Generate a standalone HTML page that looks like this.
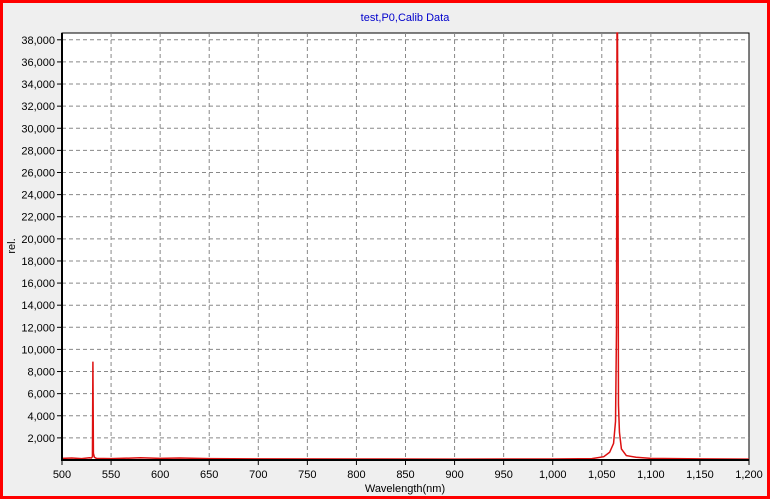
<!DOCTYPE html>
<html><head><meta charset="utf-8"><style>
html,body{margin:0;padding:0;background:#efefef;}
svg{display:block;font-family:"Liberation Sans",sans-serif;}
</style></head><body>
<svg id="chart" width="770" height="499" xmlns="http://www.w3.org/2000/svg">
<rect x="1.5" y="1.5" width="767" height="496" fill="#efefef" stroke="#ff0000" stroke-width="3"/>
<text x="405" y="21" font-size="11" fill="#0000cc" text-anchor="middle">test,P0,Calib Data</text>
<rect x="62" y="33" width="687" height="427" fill="#fff" stroke="#000" stroke-width="1"/>
<g id="grid"></g>
<g id="ticks"></g>
<g id="series"></g>
<line x1="62" y1="460" x2="749" y2="460" stroke="#000" stroke-width="2"/>
<line x1="62" y1="33" x2="62" y2="461" stroke="#000" stroke-width="2"/>
<text x="0" y="0" font-size="11" text-anchor="middle" transform="translate(15,246) rotate(-90)">rel.</text>
<text x="405" y="492" font-size="11" text-anchor="middle">Wavelength(nm)</text>
</svg>
<script>
const xTicks=[500,550,600,650,700,750,800,850,900,950,1000,1050,1100,1150,1200];
const yTicks=[2000,4000,6000,8000,10000,12000,14000,16000,18000,20000,22000,24000,26000,28000,30000,32000,34000,36000,38000];
const wavelengths=[500,510,520,528,530,531,531.5,532,533,535,550,580,600,620,650,700,800,900,1000,1040,1052,1058,1062,1064,1065,1065.5,1066,1066.5,1067,1068,1070,1075,1085,1100,1150,1200];
const intensities=[150,180,120,200,180,300,8900,600,250,150,120,200,150,180,120,100,90,80,90,120,300,700,1500,3500,12000,39000,39000,26500,5000,2500,1000,400,250,150,100,80];
const x=v=>62+(v-500)*687/700;
const y=v=>460-v*(460-39.8)/38000;
const NS="http://www.w3.org/2000/svg";
const grid=document.getElementById('grid'),ticks=document.getElementById('ticks'),series=document.getElementById('series');
function mk(tag,attrs,parent){const e=document.createElementNS(NS,tag);for(const k in attrs)e.setAttribute(k,attrs[k]);parent.appendChild(e);return e;}
xTicks.forEach(t=>{
  const px=x(t);
  if(t>500&&t<1200){const l=mk('line',{x1:px,y1:33,x2:px,y2:460,stroke:'#888','stroke-dasharray':'4,3'},grid);
  
  }
  const tk=mk('line',{x1:px,y1:460,x2:px,y2:465,stroke:'#000'},ticks);
  
  
  const tx=mk('text',{x:px,y:478,'font-size':11,'text-anchor':'middle'},ticks);
  tx.textContent=t.toLocaleString('en-US');
  
  
});
yTicks.forEach(t=>{
  const py=y(t);
  const l=mk('line',{x1:62,y1:py,x2:749,y2:py,stroke:'#888','stroke-dasharray':'4,3'},grid);
  
  
  const tk=mk('line',{x1:57,y1:py,x2:62,y2:py,stroke:'#000'},ticks);
  
  
  const tx=mk('text',{x:55,y:py+4,'font-size':11,'text-anchor':'end'},ticks);
  tx.textContent=t.toLocaleString('en-US');
  
  
});
const pts=wavelengths.map((w,i)=>x(w).toFixed(2)+','+Math.max(33,y(intensities[i])).toFixed(2)).join(' ');
const pl=mk('polyline',{points:pts,fill:'none',stroke:'#dd1111','stroke-width':1.5},series);


</script>
</body></html>
